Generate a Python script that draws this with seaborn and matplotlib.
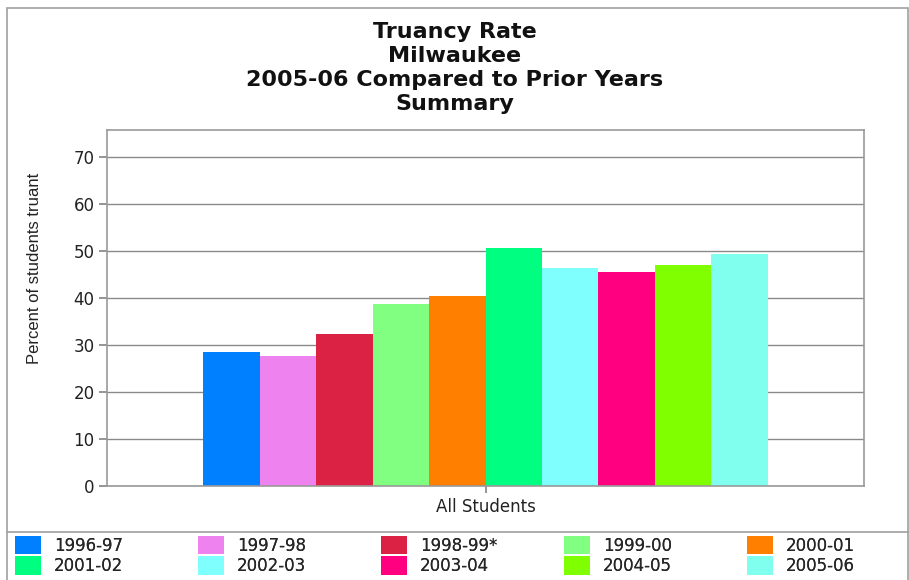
import pandas as pd
import numpy as np
import matplotlib
matplotlib.use("Agg")
import matplotlib.pyplot as plt
import seaborn as sns
from matplotlib.patches import Rectangle
from matplotlib.lines import Line2D

# data
years = ['1996-97', '1997-98', '1998-99*', '1999-00', '2000-01',
         '2001-02', '2002-03', '2003-04', '2004-05', '2005-06']
rates = [28.4, 27.7, 32.3, 38.7, 40.3, 50.6, 46.3, 45.6, 47.0, 49.3]
group = 'All Students'
colors = ['#0080FF', '#EE82EE', '#DC2244', '#80FF80', '#FF8000',
          '#00FF80', '#80FFFF', '#FF0080', '#80FF00', '#80FFEE']
title_lines = ['Truancy Rate', 'Milwaukee', '2005-06 Compared to Prior Years', 'Summary']

df = pd.DataFrame({'group': [group] * len(years), 'year': years, 'rate': rates})

sns.set_theme(style='white')
plt.rcParams['font.family'] = ['DejaVu Sans']

W, H = 909, 580
fig = plt.figure(figsize=(W / 100, H / 100), dpi=100)
ax = fig.add_axes([107 / W, 1 - 486 / H, (864 - 107) / W, (486 - 130) / H])

sns.barplot(data=df, x='group', y='rate', hue='year', palette=colors,
            width=0.8, gap=0, saturation=1, linewidth=0, ax=ax, legend=False)

ax.set_xlim(-0.536, 0.536)
ax.set_ylim(0, 75.7)
ax.set_yticks(range(0, 80, 10))
ax.yaxis.grid(True, color='#8a8a8a', linewidth=1)
ax.set_axisbelow(True)
for s in ax.spines.values():
    s.set_color('#999999')
    s.set_linewidth(1.2)
ax.tick_params(axis='y', length=6, color='#888888', direction='out', left=True,
               labelsize=12, labelcolor='#222222', pad=3)
ax.tick_params(axis='x', length=5, color='#888888', direction='out', bottom=True,
               labelsize=12, labelcolor='#222222', pad=4)
ax.set_xlabel('')
ax.set_ylabel('Percent of students truant', fontsize=12, color='#222222',
              family=['Liberation Sans', 'DejaVu Sans'])
ax.yaxis.set_label_coords(-0.086, 0.61)

# title, one line at a time
for i, line in enumerate(title_lines):
    fig.text(0.5, 1 - (38 + 24 * i) / H, line, ha='center', va='baseline',
             fontsize=16, fontweight='bold', color='#111111')

# outer frame and legend separator
fig.patches.append(Rectangle((7 / W, -0.01), 901 / W, 1.01 - 8 / H,
                             transform=fig.transFigure, fill=False,
                             edgecolor='#a0a0a0', linewidth=1.2))
fig.lines.append(Line2D([7 / W, 1], [1 - 532 / H] * 2, transform=fig.transFigure,
                        color='#a0a0a0', linewidth=1.2))

# legend: five columns of two entries, laid out row by row like the original
handles = [Rectangle((0, 0), 1, 1, facecolor=c, edgecolor='none') for c in colors]
for col in range(5):
    idx = [col, col + 5]
    leg = fig.legend([handles[i] for i in idx], [years[i] for i in idx],
                     loc='upper left', bbox_to_anchor=((15 + 183 * col) / W, 1 - 536 / H),
                     frameon=False, fontsize=12, handlelength=1.56, handleheight=1.3,
                     handletextpad=0.78, labelspacing=0.1, borderpad=0,
                     borderaxespad=0)
    fig.add_artist(leg)

fig.savefig('out.png', dpi=100)
